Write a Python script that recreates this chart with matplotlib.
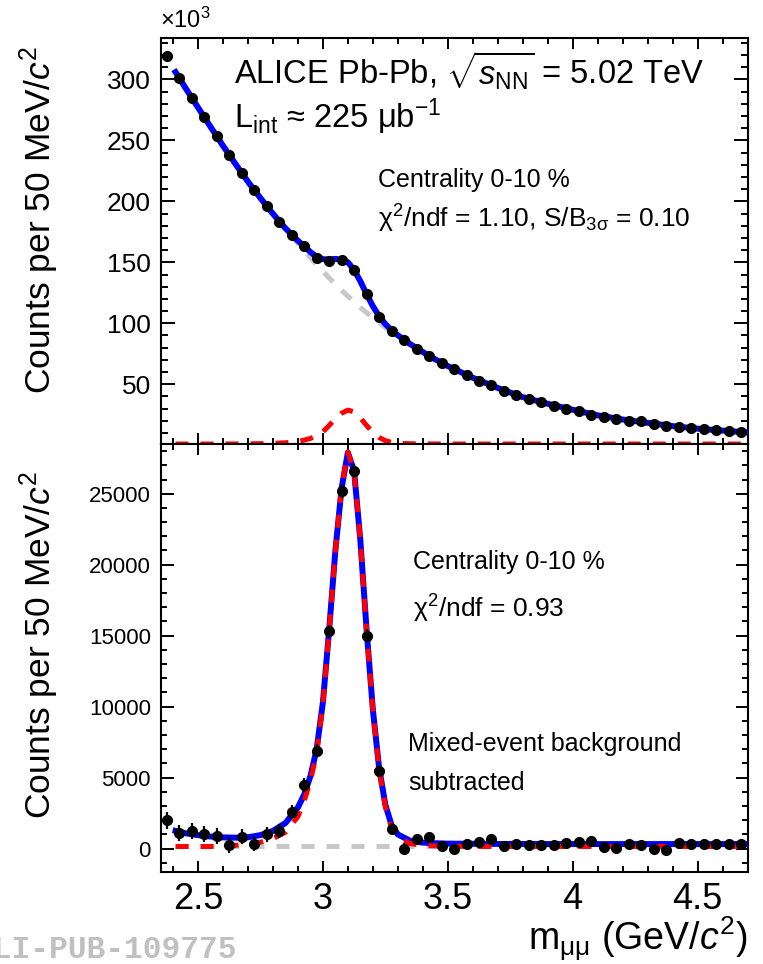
import matplotlib.pyplot as plt
from matplotlib.ticker import MultipleLocator, FormatStrFormatter

plt.rcParams['font.family'] = ['Liberation Sans', 'DejaVu Sans']
plt.rcParams['mathtext.fontset'] = 'custom'
plt.rcParams['mathtext.rm'] = 'Liberation Sans'
plt.rcParams['mathtext.it'] = 'Liberation Sans:italic'
plt.rcParams['mathtext.bf'] = 'Liberation Sans:bold'

# bin centres, 50 MeV/c^2 bins
mass = [2.375, 2.425, 2.475, 2.525, 2.575, 2.625, 2.675, 2.725, 2.775, 2.825,
        2.875, 2.925, 2.975, 3.025, 3.075, 3.125, 3.175, 3.225, 3.275, 3.325,
        3.375, 3.425, 3.475, 3.525, 3.575, 3.625, 3.675, 3.725, 3.775, 3.825,
        3.875, 3.925, 3.975, 4.025, 4.075, 4.125, 4.175, 4.225, 4.275, 4.325,
        4.375, 4.425, 4.475, 4.525, 4.575, 4.625, 4.675]

# top panel: raw opposite-sign counts (x10^3)
top_counts = [319.0, 301.0, 285.0, 269.0, 253.5, 238.0, 223.5, 209.0, 196.5, 183.4,
              172.5, 163.2, 153.5, 151.4, 151.6, 144.0, 123.8, 105.5, 93.7, 86.0,
              78.9, 73.2, 67.2, 62.3, 58.0, 52.7, 49.2, 44.8, 41.0, 37.7,
              35.8, 32.2, 30.1, 28.1, 25.2, 23.5, 21.9, 20.2, 19.7, 17.2,
              15.8, 15.3, 14.2, 13.1, 12.5, 11.7, 10.9]

# bottom panel: mixed-event subtracted counts
bot_counts = [2000, 1100, 1250, 1060, 870, 250, 820, 350, 1000, 1250,
              2600, 4470, 6900, 15300, 25200, 26600, 15000, 5500, 1410, 0,
              660, 820, 160, 0, 350, 450, 660, 190, 350, 230,
              250, 250, 400, 470, 520, 120, 70, 350, 230, 0,
              -120, 400, 350, 350, 330, 350, 300]
bot_err = [600, 580, 570, 560, 550, 540, 530, 520, 510, 500,
           490, 480, 480, 480, 480, 470, 450, 420, 400, 380,
           370, 360, 350, 340, 330, 320, 310, 300, 290, 280,
           270, 265, 260, 255, 250, 245, 240, 235, 230, 225,
           220, 215, 210, 205, 200, 195, 190]

# fit curves
curve_x = [2.41, 2.45, 2.50, 2.55, 2.60, 2.65, 2.70, 2.75, 2.80, 2.85,
           2.90, 2.925, 2.95, 2.975, 3.00, 3.025, 3.05, 3.075, 3.10, 3.125,
           3.15, 3.175, 3.20, 3.225, 3.25, 3.275, 3.30, 3.35, 3.40, 3.45,
           3.50, 3.60, 3.70, 3.80, 3.90, 4.00, 4.10, 4.20, 4.30, 4.40,
           4.50, 4.60, 4.70]
signal = [0, 0, 0, 0, 30, 80, 150, 300, 550, 1000,
          2100, 3200, 4600, 6600, 10000, 15200, 20800, 25300, 27800, 26400,
          21500, 15200, 9600, 5400, 2800, 1300, 600, 200, 80, 40,
          20, 0, 0, 0, 0, 0, 0, 0, 0, 0,
          0, 0, 0]
top_bkg = [306.0, 293.0, 277.0, 261.2, 245.6, 230.6, 216.0, 202.4, 189.3, 176.9,
           165.6, 160.2, 153.8, 148.0, 142.6, 137.2, 132.0, 127.0, 122.3, 117.4,
           113.0, 108.7, 104.5, 100.5, 96.6, 93.0, 89.6, 82.7, 76.4, 70.4,
           64.9, 55.4, 47.0, 39.5, 34.0, 29.1, 24.5, 21.1, 18.4, 15.7,
           13.6, 12.0, 10.5]
bot_fit = [1250, 1080, 950, 850, 790, 770, 800, 950, 1250, 1800,
           2900, 3800, 5100, 7000, 10300, 15400, 21000, 25400, 27900, 26600,
           21700, 15400, 9800, 5700, 3100, 1650, 1000, 550, 420, 380,
           350, 340, 330, 330, 320, 320, 320, 320, 320, 320,
           320, 320, 320]
bot_bkg = 150

top_sig = [s / 1000 for s in signal]
top_tot = [b + s for b, s in zip(top_bkg, top_sig)]
bot_sig = [bot_bkg + s for s in signal]

blue = '#0000ff'
red = '#ff0000'
grey = '#c8c8c8'
dash = (0, (2.6, 2.4))

fig = plt.figure(figsize=(7.63, 9.64), dpi=100)
ax1 = fig.add_axes([0.2104, 0.5394, 0.7693, 0.4212])
ax2 = fig.add_axes([0.2104, 0.0954, 0.7693, 0.4440])

# top panel
ax1.plot(curve_x, top_bkg, color=grey, lw=3.6, ls=dash, zorder=2)
ax1.plot(curve_x, top_tot, color=blue, lw=4.3, zorder=3)
ax1.plot(curve_x, [s + 1.0 for s in top_sig], color=red, lw=3.6, ls=dash, zorder=4)
ax1.plot(mass, top_counts, 'o', color='black', ms=7, zorder=5)

# bottom panel
ax2.plot(curve_x, [bot_bkg] * len(curve_x), color=grey, lw=3.6, ls=dash, zorder=2)
ax2.plot(curve_x, bot_fit, color=blue, lw=4.3, zorder=3)
ax2.plot(curve_x, bot_sig, color=red, lw=3.6, ls=dash, zorder=4)
ax2.errorbar(mass, bot_counts, yerr=bot_err, xerr=0.012, fmt='o', color='black',
             ms=7, elinewidth=1.6, capsize=0, zorder=5)

for ax in (ax1, ax2):
    ax.set_xlim(2.35, 4.7)
    ax.xaxis.set_major_locator(MultipleLocator(0.5))
    ax.xaxis.set_minor_locator(MultipleLocator(0.1))
    ax.xaxis.set_major_formatter(FormatStrFormatter('%g'))
    ax.tick_params(which='both', direction='in', top=True, right=True, width=1.4)
    ax.tick_params(axis='x', which='major', length=8)
    ax.tick_params(axis='x', which='minor', length=4)
    for sp in ax.spines.values():
        sp.set_linewidth(1.5)

ax1.set_ylim(1, 334)
ax1.yaxis.set_major_locator(MultipleLocator(50))
ax1.yaxis.set_minor_locator(MultipleLocator(10))
ax1.tick_params(axis='y', which='major', length=10, labelsize=19, pad=7)
ax1.tick_params(axis='y', which='minor', length=5)
ax1.tick_params(axis='x', labelbottom=False)

ax2.set_ylim(-1650, 28500)
ax2.yaxis.set_major_locator(MultipleLocator(5000))
ax2.yaxis.set_minor_locator(MultipleLocator(1000))
ax2.tick_params(axis='y', which='major', length=9, labelsize=16, pad=7)
ax2.tick_params(axis='y', which='minor', length=4.5)
ax2.tick_params(axis='x', labelsize=26, pad=7)

ylab = r'Counts per 50 MeV/$c^{2}$'
fig.text(0.052, 0.953, ylab, rotation=90, ha='center', va='top', fontsize=25.5)
fig.text(0.052, 0.512, ylab, rotation=90, ha='center', va='top', fontsize=25.5)
fig.text(0.9797, 0.0145, r'm$_{\mathrm{\mu\mu}}$ (GeV/$c^{2}$)', ha='right',
         va='baseline', fontsize=27)
fig.text(0.2097, 0.971, r'$\times$10$^{3}$', ha='left', va='baseline', fontsize=17)

fig.text(0.3067, 0.9129, r'ALICE Pb-Pb, $\sqrt{s_{\mathrm{NN}}}$ = 5.02 TeV',
         ha='left', va='baseline', fontsize=23.5)
fig.text(0.3067, 0.8672, r'L$_{\mathrm{int}}$ ≈ 225 μb$^{\mathrm{-1}}$',
         ha='left', va='baseline', fontsize=23.5)
fig.text(0.4954, 0.806, 'Centrality 0-10 %', ha='left', va='baseline', fontsize=18)
fig.text(0.4954, 0.7635, r'χ$^{2}$/ndf = 1.10, S/B$_{3\mathrm{σ}}$ = 0.10',
         ha='left', va='baseline', fontsize=19)

fig.text(0.5413, 0.4098, 'Centrality 0-10 %', ha='left', va='baseline', fontsize=18)
fig.text(0.5413, 0.359, r'χ$^{2}$/ndf = 0.93', ha='left', va='baseline', fontsize=19)
fig.text(0.5347, 0.221, 'Mixed-event background', ha='left', va='baseline', fontsize=18)
fig.text(0.5347, 0.1805, 'subtracted', ha='left', va='baseline', fontsize=18)

fig.text(0.3106, 0.0062, 'ALI-PUB-109775', ha='right', va='baseline', fontsize=22.5,
         color='#c0c0c0', family='Liberation Mono', weight='bold')

fig.savefig('out.png', dpi=100)
